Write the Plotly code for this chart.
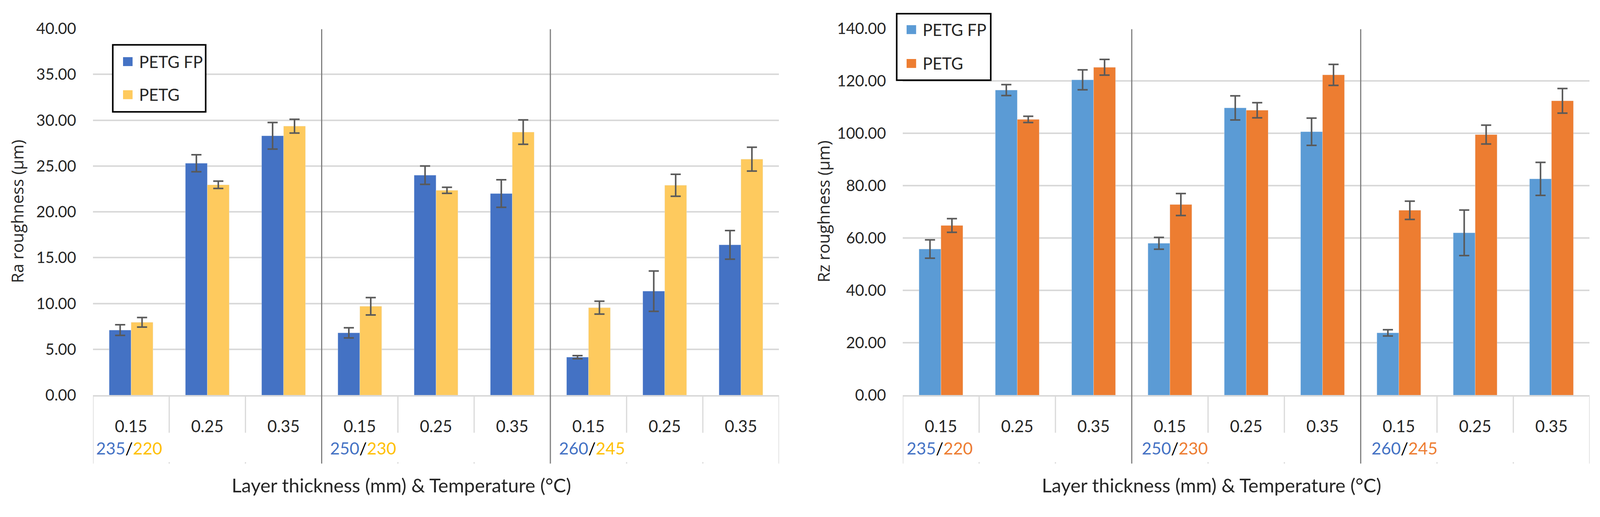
import plotly.graph_objects as go

W, H = 4186, 1323

# categories
layers = ['0.15', '0.25', '0.35'] * 3
temps_fp = ['235', '250', '260']
temps_petg = ['220', '230', '245']
series = ['PETG FP', 'PETG']

# Ra roughness (um)
ra_fp = [7.1, 25.3, 28.3, 6.8, 24.0, 22.0, 4.15, 11.35, 16.4]
ra_fp_err = [0.58, 0.93, 1.45, 0.55, 1.0, 1.5, 0.17, 2.2, 1.56]
ra_petg = [7.95, 22.95, 29.35, 9.7, 22.35, 28.7, 9.55, 22.9, 25.75]
ra_petg_err = [0.52, 0.4, 0.75, 0.95, 0.33, 1.33, 0.7, 1.2, 1.3]

# Rz roughness (um)
rz_fp = [55.8, 116.5, 120.4, 58.0, 109.7, 100.6, 23.8, 62.0, 82.6]
rz_fp_err = [3.5, 2.1, 3.8, 2.25, 4.6, 5.2, 1.2, 8.7, 6.3]
rz_petg = [64.8, 105.3, 125.2, 72.8, 108.8, 122.3, 70.6, 99.5, 112.4]
rz_petg_err = [2.6, 1.2, 3.0, 4.2, 2.9, 4.0, 3.5, 3.6, 4.7]


# pixel position in the 4186x1323 frame -> paper fraction
def px(x):
    return x / W


def py(y):
    return 1 - y / H


FONT = 'Lato'
TXT = '#262626'
GRID = '#D9D9D9'

panels = [
    dict(ax='x', ay='y', left=236, right=2038, ymax=40, dtick=5,
         fp=ra_fp, fp_err=ra_fp_err, pg=ra_petg, pg_err=ra_petg_err,
         c_fp='#4472C4', c_pg='#FECA5E', t_fp='#4472C4', t_pg='#FFC000',
         ytitle='Ra roughness (µm)', ytitle_x=36, xtitle_x=1046,
         leg=(288, 86, 532, 266), sw_x=315, txt_x=355, leg_y=(131, 220),
         tshift=[6, 20, 20]),
    dict(ax='x2', ay='y2', left=2363, right=4167, ymax=140, dtick=20,
         fp=rz_fp, fp_err=rz_fp_err, pg=rz_petg, pg_err=rz_petg_err,
         c_fp='#5B9BD5', c_pg='#ED7D31', t_fp='#4472C4', t_pg='#ED7D31',
         ytitle='Rz roughness (µm)', ytitle_x=2154, xtitle_x=3174,
         leg=(2347, 2, 2594, 181), sw_x=2373, txt_x=2413, leg_y=(45, 136),
         tshift=[8, 24, 26]),
]

y_top, y_zero, y_row1, y_row2 = 42, 1028, 1129, 1212

fig = go.Figure()
shapes = []
annotations = []
idx = list(range(len(layers)))

for i, p in enumerate(panels):
    for name, vals, errs, col in [(series[0], p['fp'], p['fp_err'], p['c_fp']),
                                  (series[1], p['pg'], p['pg_err'], p['c_pg'])]:
        fig.add_trace(go.Bar(
            x=idx, y=vals, name=name, marker_color=col, showlegend=False,
            xaxis=p['ax'], yaxis=p['ay'],
            error_y=dict(type='data', array=errs, color='#595959',
                         thickness=4, width=13),
        ))

    suffix = '' if i == 0 else '2'
    fig.update_layout(**{
        'xaxis' + suffix: dict(
            domain=[px(p['left']), px(p['right'])], range=[-0.5, 8.5],
            anchor='y' + suffix, tickvals=idx, ticktext=layers,
            showgrid=False, zeroline=False, showline=True,
            linecolor=GRID, linewidth=4, ticks='', ticklabelstandoff=40,
            tickfont=dict(family=FONT, size=42, color=TXT)),
        'yaxis' + suffix: dict(
            domain=[py(y_zero), py(y_top)], range=[0, p['ymax']],
            anchor='x' + suffix, dtick=p['dtick'], tickformat='.2f',
            showgrid=True, gridcolor=GRID, gridwidth=4, zeroline=False,
            showline=False, ticks='', ticklabelstandoff=42,
            tickfont=dict(family=FONT, size=40, color=TXT)),
    })

    xr = p['ax']
    # category cell lines and group dividers
    for k in range(len(layers) + 1):
        xb = k - 0.5
        if k in (0, 9):
            shapes.append(dict(type='line', xref=xr, yref='paper', x0=xb, x1=xb,
                               y0=py(y_zero), y1=py(y_row2),
                               line=dict(color=GRID, width=3)))
        elif k in (3, 6):
            shapes.append(dict(type='line', xref=xr, yref='paper', x0=xb, x1=xb,
                               y0=py(y_top + 2), y1=py(y_row2),
                               line=dict(color='#7F7F7F', width=3)))
        else:
            shapes.append(dict(type='line', xref=xr, yref='paper', x0=xb, x1=xb,
                               y0=py(y_zero), y1=py(y_row1),
                               line=dict(color=GRID, width=3)))
            shapes.append(dict(type='line', xref=xr, yref='paper', x0=xb, x1=xb,
                               y0=py(y_row2 - 4), y1=py(y_row2),
                               line=dict(color=GRID, width=3)))

    # temperature labels
    for g in range(3):
        annotations.append(dict(
            xref=xr, yref='paper', x=g * 3 - 0.5, y=py(1170),
            xanchor='left', yanchor='middle', xshift=p['tshift'][g],
            showarrow=False, font=dict(family=FONT, size=43),
            text=(f'<span style="color:{p["t_fp"]}">{temps_fp[g]}</span>'
                  f'<span style="color:#000000">/</span>'
                  f'<span style="color:{p["t_pg"]}">{temps_petg[g]}</span>')))

    # axis titles
    annotations.append(dict(
        xref='paper', yref='paper', x=px(p['xtitle_x']), y=py(1269),
        xanchor='center', yanchor='middle', showarrow=False,
        text='Layer thickness (mm) & Temperature (°C)',
        font=dict(family=FONT, size=49, color=TXT)))
    annotations.append(dict(
        xref='paper', yref='paper', x=px(p['ytitle_x']), y=py(534),
        xanchor='center', yanchor='middle', showarrow=False, textangle=-90,
        text=p['ytitle'], font=dict(family='Open Sans', size=42, color=TXT)))

    # legend box
    lx0, ly0, lx1, ly1 = p['leg']
    shapes.append(dict(type='rect', xref='paper', yref='paper',
                       x0=px(lx0), x1=px(lx1), y0=py(ly1), y1=py(ly0),
                       fillcolor='white', line=dict(color='black', width=4)))
    for name, col, yc in [(series[0], p['c_fp'], p['leg_y'][0]),
                          (series[1], p['c_pg'], p['leg_y'][1])]:
        shapes.append(dict(type='rect', xref='paper', yref='paper',
                           x0=px(p['sw_x']), x1=px(p['sw_x'] + 25),
                           y0=py(yc + 12), y1=py(yc - 12),
                           fillcolor=col, line=dict(width=0)))
        annotations.append(dict(
            xref='paper', yref='paper', x=px(p['txt_x']), y=py(yc),
            xanchor='left', yanchor='middle', showarrow=False, text=name,
            font=dict(family=FONT, size=42, color=TXT)))

fig.update_layout(
    autosize=True,
    margin=dict(l=0, r=0, t=0, b=0),
    paper_bgcolor='white', plot_bgcolor='white',
    barmode='group', bargap=0.425, bargroupgap=0,
    shapes=shapes, annotations=annotations,
    showlegend=False,
)

# fill the browser window instead of a fixed size
fig.write_html('out.html', default_width='calc(100vw - 16px)',
               default_height='calc(100vh - 16px)')
